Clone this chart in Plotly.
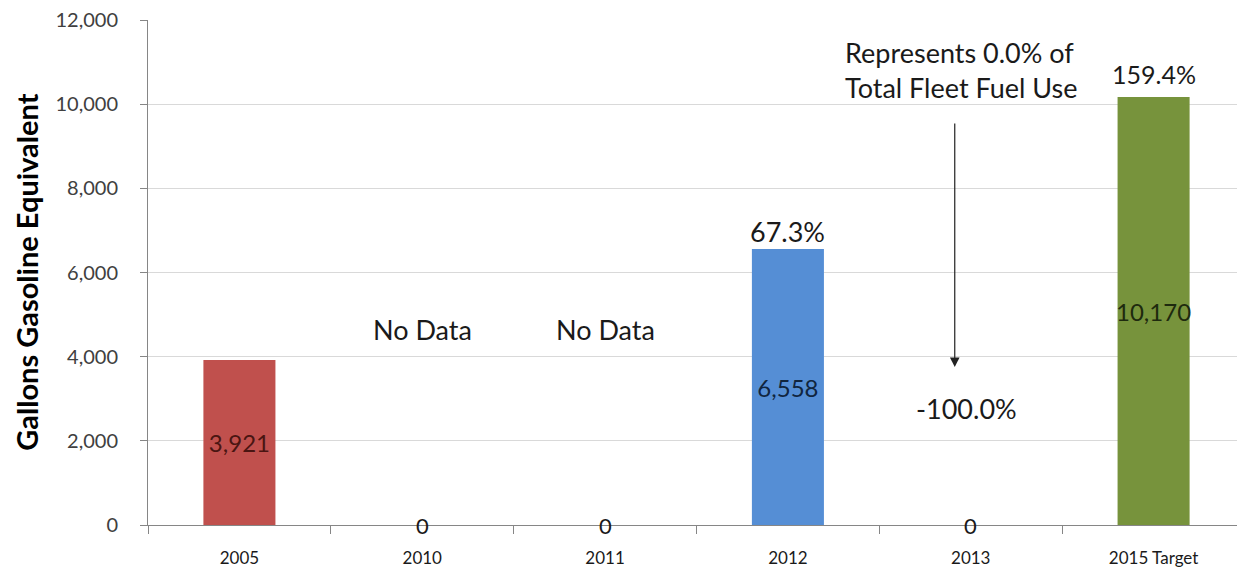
import plotly.graph_objects as go

categories = ["2005", "2010", "2011", "2012", "2013", "2015 Target"]
values = [3921, 0, 0, 6558, 0, 10170]
pct_labels = ["", "No Data", "No Data", "67.3%", "-100.0%", "159.4%"]
bar_colors = ["#C0504D", "#4F81BD", "#4F81BD", "#558ED5", "#4F81BD", "#77933C"]
label_colors = ["#4A1512", "#10253F", "#10253F", "#10253F", "#10253F", "#1E2A0E"]
tick_vals = [0, 2000, 4000, 6000, 8000, 10000, 12000]
tick_text = ["0", "2,000", "4,000", "6,000", "8,000", "10,000", "12,000"]
y_title = "Gallons Gasoline Equivalent"
note_text = "Represents 0.0% of<br>Total Fleet Fuel Use"
note_index = categories.index("2013")

# layout-only placement of the hand-placed labels (y centre in axis units)
label_y = {"No Data": 4634, "-100.0%": 2780, "67.3%": 6963, "159.4%": 10718}

FONT = "Lato"
TXT = "#1A1A1A"
ANN = 27

fig = go.Figure()
fig.add_trace(go.Bar(
    x=categories,
    y=values,
    marker=dict(color=bar_colors, line=dict(width=0)),
    width=0.394,
    text=[f"{v:,}" if v else "" for v in values],
    textposition="inside",
    insidetextanchor="middle",
    textangle=0,
    constraintext="none",
    insidetextfont=dict(family=FONT, size=24, color=label_colors),
    hoverinfo="skip",
))

annotations = []
# zero labels on the axis
for i, v in enumerate(values):
    if v == 0:
        annotations.append(dict(x=i, y=0, text="0", showarrow=False,
                                yanchor="middle", font=dict(family=FONT, size=22, color=TXT)))

# percentage / note labels
for i, p in enumerate(pct_labels):
    if not p:
        continue
    size = ANN - 2 if p == "159.4%" else ANN
    annotations.append(dict(x=i, y=label_y[p], text=p, showarrow=False, yanchor="middle",
                            xshift=-4 if p.startswith("-") else 0,
                            font=dict(family=FONT, size=size, color=TXT)))

annotations.append(dict(x=note_index, y=10813, text=note_text, showarrow=False,
                        yanchor="middle", xanchor="center", xshift=-9, align="left",
                        font=dict(family=FONT, size=ANN, color=TXT)))
annotations.append(dict(x=note_index, y=3755, ax=note_index, ay=9577, axref="x", ayref="y",
                        xshift=-16, showarrow=True, arrowhead=2, arrowsize=1.6,
                        arrowwidth=1.2, arrowcolor="#222222", text=""))

# y-axis title as rotated annotation in the left margin
annotations.append(dict(xref="paper", yref="paper", x=-0.111, y=0.5,
                        xanchor="center", yanchor="middle", textangle=-90,
                        text=f"<b>{y_title}</b>", showarrow=False,
                        font=dict(family=FONT, size=29, color="#000000")))

# page body adds an 8px offset; size figure so the plot lands where the reference has it
fig.update_layout(
    width=1237, height=570,
    margin=dict(l=140, r=0, t=12, b=53),
    paper_bgcolor="white", plot_bgcolor="white",
    showlegend=False,
    annotations=annotations,
    font=dict(family=FONT, color=TXT),
    xaxis=dict(
        type="category",
        range=[-0.5, len(categories) - 0.5],
        automargin=False,
        showline=True, linecolor="#868686", linewidth=1,
        ticks="outside", tickson="boundaries", ticklen=8, tickcolor="#868686",
        tickfont=dict(family=FONT, size=17, color=TXT),
        ticklabelstandoff=18,
        tickangle=0,
        showgrid=False, zeroline=False,
    ),
    yaxis=dict(
        range=[0, 12000],
        automargin=False,
        tickvals=tick_vals, ticktext=tick_text,
        showline=True, linecolor="#868686", linewidth=1,
        ticks="outside", ticklen=7, tickcolor="#868686",
        tickfont=dict(family=FONT, size=20, color="#404040"),
        ticklabelstandoff=18,
        ticklabeloverflow="allow",
        showgrid=True, gridcolor="#D9D9D9", gridwidth=1,
        zeroline=False,
    ),
)

fig.write_html("out.html")
